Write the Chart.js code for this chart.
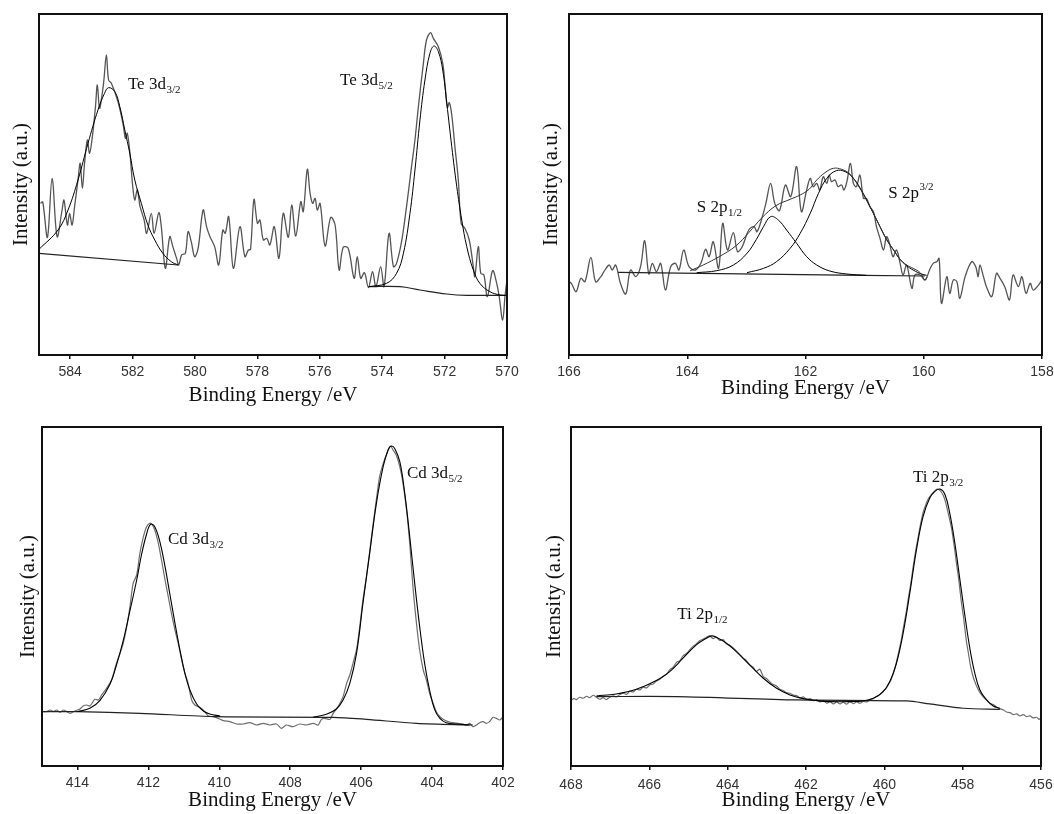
<!DOCTYPE html>
<html>
<head>
<meta charset="utf-8">
<script src="https://cdn.jsdelivr.net/npm/chart.js@4.4.1/dist/chart.umd.min.js"></script>
<style>
  html, body { margin: 0; padding: 0; background: #fff; width: 1054px; height: 814px; overflow: hidden; }
  canvas { position: absolute; }
</style>
</head>
<body>
<canvas id="te" style="left:0;top:0;width:527px;height:410px" width="527" height="410"></canvas>
<canvas id="s" style="left:527px;top:0;width:527px;height:410px" width="527" height="410"></canvas>
<canvas id="cd" style="left:0;top:410px;width:527px;height:404px" width="527" height="404"></canvas>
<canvas id="ti" style="left:527px;top:410px;width:527px;height:404px" width="527" height="404"></canvas>
<script>
// ---------- Te 3d ----------
const teTicks = [584, 582, 580, 578, 576, 574, 572, 570];
const teRaw = [[584.95,455],[584.88,459],[584.73,353],[584.58,530],[584.42,355],[584.26,435],[584.20,465],[584.09,390],[584.02,425],[583.94,390],[583.86,445],[583.75,525],[583.68,575],[583.61,500],[583.54,575],[583.45,645],[583.38,605],[583.29,655],[583.19,745],[583.13,810],[583.06,740],[582.98,780],[582.92,825],[582.84,900],[582.77,825],[582.68,815],[582.47,760],[582.30,690],[582.23,650],[582.17,665],[582.08,600],[582.00,510],[581.93,465],[581.85,495],[581.76,445],[581.63,405],[581.55,365],[581.40,425],[581.31,365],[581.16,427],[581.08,385],[580.95,260],[580.81,355],[580.71,325],[580.59,290],[580.52,270],[580.43,300],[580.31,305],[580.22,370],[580.12,340],[580.01,295],[579.90,320],[579.74,435],[579.63,385],[579.52,355],[579.37,325],[579.24,270],[579.11,375],[579.03,365],[578.92,415],[578.77,260],[578.56,385],[578.40,295],[578.29,315],[578.22,317],[578.11,467],[578.00,395],[577.92,405],[577.81,345],[577.70,350],[577.60,330],[577.46,385],[577.31,290],[577.17,425],[577.01,353],[576.90,450],[576.77,357],[576.61,460],[576.53,430],[576.40,557],[576.31,485],[576.23,455],[576.15,470],[576.08,435],[575.99,455],[575.83,327],[575.65,413],[575.51,390],[575.38,255],[575.25,323],[575.09,320],[574.90,230],[574.80,295],[574.69,230],[574.57,247],[574.44,202],[574.31,250],[574.20,205],[574.05,265],[573.94,205],[573.78,365],[573.64,265],[573.54,275],[573.38,340],[573.22,445],[573.06,565],[572.95,645],[572.84,745],[572.68,875],[572.58,945],[572.45,967],[572.36,950],[572.20,925],[572.06,875],[571.98,805],[571.91,743],[571.85,757],[571.77,720],[571.67,625],[571.56,525],[571.47,395],[571.35,380],[571.21,345],[571.08,265],[571.03,235],[570.92,325],[570.84,245],[570.74,240],[570.63,175],[570.46,253],[570.33,215],[570.25,175],[570.14,105],[570.06,180],[570.00,225]];
const te32Fit = [[585.00,317],[584.39,375],[584.07,435],[583.75,525],[583.43,635],[583.11,735],[582.90,785],[582.77,802],[582.57,790],[582.41,745],[582.25,675],[582.09,605],[581.93,525],[581.72,455],[581.51,390],[581.29,345],[581.03,305],[580.76,280],[580.54,270]];
const te32Base = [[585.00,305],[580.54,270]];
const te52Fit = [[574.44,205],[573.86,215],[573.54,245],[573.32,305],[573.11,425],[572.95,555],[572.79,705],[572.63,825],[572.47,905],[572.34,927],[572.20,910],[572.06,855],[571.93,755],[571.77,625],[571.61,505],[571.45,405],[571.29,325],[571.08,255],[570.87,215],[570.55,190],[570.22,180],[570.02,179]];
const te52Base = [[574.44,205],[573.43,205],[572.79,195],[571.93,183],[571.29,179],[570.05,179]];

// ---------- S 2p ----------
const sTicks = [166, 164, 162, 160, 158];
const sRaw = [[166.00,220],[165.96,215],[165.88,190],[165.80,230],[165.73,220],[165.63,293],[165.55,220],[165.46,235],[165.41,250],[165.32,270],[165.27,255],[165.21,270],[165.13,215],[165.04,183],[164.96,255],[164.87,235],[164.79,265],[164.72,343],[164.65,243],[164.59,275],[164.52,250],[164.45,275],[164.37,195],[164.28,265],[164.20,275],[164.14,255],[164.06,315],[163.97,265],[163.86,255],[163.77,275],[163.69,317],[163.63,295],[163.56,340],[163.47,260],[163.40,395],[163.32,315],[163.22,367],[163.15,310],[163.07,325],[162.96,375],[162.87,385],[162.82,370],[162.73,415],[162.67,455],[162.59,515],[162.52,455],[162.44,433],[162.34,510],[162.25,475],[162.15,565],[162.07,430],[161.98,495],[161.92,530],[161.87,505],[161.81,515],[161.76,495],[161.70,535],[161.64,515],[161.60,540],[161.56,520],[161.50,525],[161.45,505],[161.39,510],[161.35,495],[161.30,520],[161.24,575],[161.19,515],[161.14,505],[161.08,540],[161.02,470],[160.97,470],[160.91,445],[160.85,430],[160.80,385],[160.74,350],[160.68,315],[160.63,355],[160.58,335],[160.52,295],[160.46,315],[160.40,275],[160.35,240],[160.29,270],[160.20,200],[160.15,240],[160.06,240],[159.98,225],[159.89,260],[159.84,275],[159.78,280],[159.74,290],[159.70,155],[159.61,235],[159.56,185],[159.50,225],[159.44,220],[159.39,170],[159.30,235],[159.19,280],[159.12,265],[159.08,235],[159.05,270],[158.99,235],[158.94,205],[158.85,175],[158.77,245],[158.71,230],[158.63,205],[158.55,165],[158.49,240],[158.40,205],[158.34,235],[158.27,185],[158.20,215],[158.15,195],[158.08,205],[158.00,225]];
const sEnvelope = [[163.95,253],[163.73,270],[163.46,295],[163.18,327],[162.96,367],[162.73,413],[162.50,448],[162.26,467],[162.09,480],[161.94,497],[161.81,525],[161.67,547],[161.53,560],[161.39,557],[161.25,543],[161.08,500],[160.97,465],[160.85,425],[160.74,385],[160.63,347],[160.51,315],[160.40,287],[160.29,270],[160.18,260],[160.06,247],[159.98,225],[159.94,233]];
const s12Fit = [[163.84,247],[163.50,253],[163.22,270],[162.99,305],[162.83,347],[162.71,385],[162.59,415],[162.46,405],[162.32,375],[162.15,335],[161.98,295],[161.81,270],[161.59,252],[161.30,243],[160.97,239]];
const s32Fit = [[162.99,247],[162.71,260],[162.49,280],[162.26,320],[162.09,365],[161.92,425],[161.78,485],[161.64,530],[161.48,553],[161.33,550],[161.19,530],[161.05,493],[160.91,445],[160.74,385],[160.63,347],[160.51,315],[160.40,287],[160.29,268],[160.18,255],[160.04,243],[159.95,239]];
const sBase = [[165.17,248],[161.02,239],[159.98,237]];

// ---------- Cd 3d ----------
const cdTicks = [414, 412, 410, 408, 406, 404, 402];
const cdRaw = [[415.00,163],[414.87,163],[414.77,168],[414.68,163],[414.59,168],[414.49,161],[414.40,168],[414.30,163],[414.21,158],[414.12,163],[414.00,168],[413.93,171],[413.84,180],[413.74,183],[413.65,180],[413.51,200],[413.41,198],[413.32,213],[413.18,233],[413.04,258],[412.90,308],[412.80,338],[412.71,368],[412.61,418],[412.52,478],[412.43,548],[412.33,573],[412.24,638],[412.14,688],[412.05,718],[411.96,728],[411.91,726],[411.82,708],[411.72,668],[411.63,618],[411.53,558],[411.44,508],[411.35,458],[411.25,408],[411.16,368],[411.06,318],[410.97,278],[410.88,248],[410.78,198],[410.69,183],[410.55,176],[410.41,163],[410.31,150],[410.17,148],[410.03,143],[409.89,136],[409.70,133],[409.51,126],[409.33,126],[409.14,130],[408.95,123],[408.76,128],[408.58,123],[408.39,126],[408.25,113],[408.11,123],[407.92,118],[407.73,126],[407.54,123],[407.35,128],[407.21,123],[407.12,140],[407.03,143],[406.88,140],[406.79,158],[406.65,178],[406.51,208],[406.41,248],[406.32,273],[406.23,308],[406.13,350],[406.04,418],[405.95,498],[405.85,568],[405.76,643],[405.66,728],[405.57,800],[405.48,868],[405.40,900],[405.31,928],[405.23,950],[405.17,960],[405.10,948],[405.01,933],[404.91,898],[404.82,848],[404.72,768],[404.63,668],[404.54,538],[404.44,428],[404.35,348],[404.25,288],[404.16,258],[404.07,218],[403.97,188],[403.88,163],[403.78,148],[403.69,140],[403.55,133],[403.41,130],[403.27,128],[403.13,126],[403.03,123],[402.94,128],[402.85,118],[402.75,123],[402.66,130],[402.56,133],[402.47,128],[402.38,133],[402.28,146],[402.19,143],[402.09,138],[402.00,148]];
const cd32Fit = [[414.00,163],[413.65,173],[413.37,196],[413.08,246],[412.90,303],[412.71,376],[412.52,466],[412.33,558],[412.19,636],[412.05,696],[411.94,725],[411.82,718],[411.67,670],[411.53,598],[411.39,513],[411.25,428],[411.11,348],[410.97,278],[410.83,228],[410.64,186],[410.45,165],[410.27,156],[409.98,150]];
const cd52Fit = [[407.35,147],[406.98,155],[406.70,171],[406.51,198],[406.32,248],[406.13,338],[405.95,488],[405.76,638],[405.57,788],[405.38,898],[405.24,948],[405.15,960],[405.05,952],[404.91,913],[404.77,818],[404.63,688],[404.49,548],[404.35,418],[404.21,308],[404.07,228],[403.93,170],[403.78,143],[403.60,130],[403.32,126],[402.94,123]];
const cdBase = [[415.00,163],[414.00,163],[412.24,158],[410.08,148],[406.79,146],[405.85,140],[404.44,128],[402.85,123]];

// ---------- Ti 2p ----------
const tiTicks = [468, 466, 464, 462, 460, 458, 456];
const tiRaw = [[468.00,196],[467.93,202],[467.86,199],[467.78,206],[467.69,203],[467.60,209],[467.52,205],[467.43,212],[467.35,206],[467.26,200],[467.18,205],[467.10,199],[467.01,206],[466.92,210],[466.84,207],[466.75,214],[466.67,218],[466.58,215],[466.50,224],[466.41,222],[466.33,230],[466.24,228],[466.16,236],[466.07,234],[465.99,243],[465.90,246],[465.82,255],[465.73,260],[465.65,269],[465.56,275],[465.48,288],[465.39,296],[465.31,310],[465.22,316],[465.14,330],[465.05,337],[464.97,348],[464.88,359],[464.80,366],[464.71,376],[464.63,380],[464.54,386],[464.46,390],[464.37,382],[464.29,386],[464.20,376],[464.12,379],[464.03,366],[463.95,362],[463.86,354],[463.78,345],[463.69,334],[463.61,324],[463.52,316],[463.44,304],[463.35,296],[463.27,284],[463.18,290],[463.09,268],[463.01,262],[462.92,252],[462.84,244],[462.75,240],[462.67,230],[462.58,226],[462.49,219],[462.41,218],[462.32,212],[462.24,211],[462.15,204],[462.07,207],[461.98,200],[461.90,202],[461.81,196],[461.73,199],[461.64,192],[461.56,196],[461.47,188],[461.39,193],[461.30,186],[461.22,192],[461.13,186],[461.05,191],[460.96,185],[460.88,193],[460.79,187],[460.71,192],[460.62,188],[460.54,194],[460.45,192],[460.37,199],[460.28,202],[460.20,208],[460.11,214],[460.03,224],[459.96,232],[459.90,244],[459.83,258],[459.77,278],[459.71,302],[459.65,333],[459.58,370],[459.52,410],[459.45,455],[459.39,500],[459.32,550],[459.26,600],[459.20,645],[459.13,690],[459.07,728],[459.01,760],[458.94,784],[458.88,800],[458.81,812],[458.75,820],[458.70,826],[458.65,830],[458.60,828],[458.55,822],[458.50,812],[458.45,796],[458.41,778],[458.37,758],[458.33,738],[458.28,710],[458.24,678],[458.20,645],[458.16,608],[458.11,568],[458.07,528],[458.03,488],[457.98,448],[457.94,408],[457.90,370],[457.85,336],[457.81,306],[457.77,284],[457.73,266],[457.68,250],[457.64,238],[457.58,224],[457.52,214],[457.45,204],[457.39,198],[457.33,190],[457.26,186],[457.19,182],[457.13,176],[457.05,172],[456.96,168],[456.88,162],[456.79,160],[456.71,154],[456.62,156],[456.54,150],[456.45,154],[456.37,148],[456.28,150],[456.20,144],[456.11,146],[456.05,140],[456.00,144]];
const tiFit = [[467.35,210],[466.84,216],[466.33,230],[465.82,256],[465.48,283],[465.14,323],[464.80,363],[464.54,383],[464.41,390],[464.29,386],[464.03,368],[463.78,343],[463.44,303],[463.09,263],[462.75,233],[462.41,213],[462.07,202],[461.73,196],[461.39,193],[460.88,193],[460.54,195],[460.28,203],[460.03,223],[459.86,253],[459.69,308],[459.52,398],[459.35,518],[459.18,648],[459.01,748],[458.84,803],[458.71,823],[458.58,830],[458.45,813],[458.33,758],[458.20,668],[458.07,558],[457.94,448],[457.81,348],[457.69,278],[457.56,228],[457.39,198],[457.22,180],[457.05,173]];
const tiBase = [[467.35,208],[465.31,208],[462.24,198],[459.43,195],[458.84,186],[457.98,173],[457.05,170]];

// ---------- drawing helpers ----------
const SERIF = '"Liberation Serif", "Times New Roman", serif';
const SANS = '"Liberation Sans", Arial, sans-serif';

const toXY = pts => pts.map(p => ({ x: p[0], y: p[1] }));

function lineSet(label, pts, color, width, tension) {
  return {
    label, data: toXY(pts), showLine: true, borderColor: color, borderWidth: width,
    pointRadius: 0, pointHoverRadius: 0, fill: false, tension: tension
  };
}

// Plot frame on all four sides of the chart area
const framePlugin = {
  id: 'frameBox',
  afterDatasetsDraw(chart) {
    const a = chart.chartArea, ctx = chart.ctx;
    ctx.save();
    ctx.strokeStyle = '#111';
    ctx.lineWidth = 2;
    ctx.strokeRect(a.left, a.top, a.right - a.left, a.bottom - a.top);
    ctx.restore();
  }
};

// Peak names with sub/superscripts, placed in data coordinates
const peakLabelPlugin = {
  id: 'peakLabels',
  afterDraw(chart, args, opts) {
    const ctx = chart.ctx, xs = chart.scales.x, ys = chart.scales.y;
    ctx.save();
    ctx.fillStyle = '#111';
    ctx.textBaseline = 'alphabetic';
    ctx.textAlign = 'left';
    (opts.items || []).forEach(it => {
      const px = xs.getPixelForValue(it.x), py = ys.getPixelForValue(it.y);
      ctx.font = '17px ' + SERIF;
      ctx.fillText(it.main, px, py);
      const w = ctx.measureText(it.main).width;
      ctx.font = '11px ' + SERIF;
      if (it.sub) ctx.fillText(it.sub, px + w + 0.5, py + 4);
      if (it.sup) ctx.fillText(it.sup, px + w + 0.5, py - 8);
    });
    ctx.restore();
  }
};

function makePanel(id, p) {
  new Chart(document.getElementById(id), {
    type: 'scatter',
    data: { datasets: p.datasets },
    plugins: [framePlugin, peakLabelPlugin],
    options: {
      responsive: false,
      animation: false,
      events: [],
      layout: { padding: p.padding },
      plugins: {
        legend: { display: false },
        tooltip: { enabled: false },
        peakLabels: { items: p.labels }
      },
      scales: {
        x: {
          type: 'linear', reverse: true, min: p.xMin, max: p.xMax,
          afterBuildTicks: s => { s.ticks = p.ticks.map(v => ({ value: v })); },
          ticks: { font: { family: SANS, size: 14 }, color: '#333', padding: p.tickPad, maxRotation: 0, autoSkip: false, callback: v => String(v) },
          grid: { display: true, drawOnChartArea: false, drawTicks: true, tickLength: 4, color: '#111', lineWidth: 1.5 },
          border: { display: false },
          title: { display: true, text: 'Binding Energy /eV', color: '#111', font: { family: SERIF, size: 21 }, padding: { top: 0, bottom: p.xTitlePad } },
          afterFit: s => { s.height = p.xHeight; s.paddingLeft = 0; s.paddingRight = 0; }
        },
        y: {
          type: 'linear', min: 0, max: p.yMax,
          ticks: { display: false },
          grid: { display: false, drawTicks: false },
          border: { display: false },
          title: { display: true, text: 'Intensity (a.u.)', color: '#111', font: { family: SERIF, size: 21 }, padding: { top: p.yTitlePad, bottom: 0 } },
          afterFit: s => { s.width = p.yWidth; }
        }
      }
    }
  });
}

const FIT = '#000', RAW_TOP = '#555', RAW_LOW = '#6e6e6e', BASE = '#222';

makePanel('te', {
  padding: { top: 14, right: 20, bottom: 0, left: 0 }, yWidth: 39, xHeight: 55,
  xMin: 570, xMax: 585, yMax: 1023, ticks: teTicks, tickPad: 5, xTitlePad: 2.4, yTitlePad: 8.4,
  datasets: [
    lineSet('Te 3d3/2 fit', te32Fit, FIT, 1, 0.4),
    lineSet('Te 3d5/2 fit', te52Fit, FIT, 1, 0.4),
    lineSet('Te 3d3/2 background', te32Base, BASE, 1.2, 0),
    lineSet('Te 3d5/2 background', te52Base, BASE, 1.2, 0.4),
    lineSet('Te 3d raw', teRaw, RAW_TOP, 1.3, 0.35)
  ],
  labels: [
    { x: 582.15, y: 798, main: 'Te 3d', sub: '3/2' },
    { x: 575.35, y: 810, main: 'Te 3d', sub: '5/2' }
  ]
});

makePanel('s', {
  padding: { top: 14, right: 12, bottom: 0, left: 0 }, yWidth: 42, xHeight: 55,
  xMin: 158, xMax: 166, yMax: 1023, ticks: sTicks, tickPad: 5, xTitlePad: 9, yTitlePad: 11.4,
  datasets: [
    lineSet('S 2p envelope', sEnvelope, '#333', 1, 0.4),
    lineSet('S 2p1/2 fit', s12Fit, FIT, 1, 0.4),
    lineSet('S 2p3/2 fit', s32Fit, FIT, 1, 0.4),
    lineSet('S 2p background', sBase, BASE, 1.2, 0),
    lineSet('S 2p raw', sRaw, RAW_TOP, 1.3, 0.35)
  ],
  labels: [
    { x: 163.84, y: 429, main: 'S 2p', sub: '1/2' },
    { x: 160.60, y: 471, main: 'S 2p', sup: '3/2' }
  ]
});

makePanel('cd', {
  padding: { top: 17, right: 24, bottom: 0, left: 0 }, yWidth: 42, xHeight: 48,
  xMin: 402, xMax: 415, yMax: 1017, ticks: cdTicks, tickPad: 5, xTitlePad: 1.4, yTitlePad: 15.4,
  datasets: [
    lineSet('Cd 3d3/2 fit', cd32Fit, FIT, 1.1, 0.4),
    lineSet('Cd 3d5/2 fit', cd52Fit, FIT, 1.1, 0.4),
    lineSet('Cd 3d background', cdBase, BASE, 1.2, 0.3),
    lineSet('Cd 3d raw', cdRaw, RAW_LOW, 1.2, 0.3)
  ],
  labels: [
    { x: 411.45, y: 666, main: 'Cd 3d', sub: '3/2' },
    { x: 404.71, y: 864, main: 'Cd 3d', sub: '5/2' }
  ]
});

makePanel('ti', {
  padding: { top: 17, right: 13, bottom: 0, left: 0 }, yWidth: 44, xHeight: 48,
  xMin: 456, xMax: 468, yMax: 1016, ticks: tiTicks, tickPad: 7, xTitlePad: 1.4, yTitlePad: 14.4,
  datasets: [
    lineSet('Ti 2p fit', tiFit, FIT, 1.1, 0.4),
    lineSet('Ti 2p background', tiBase, BASE, 1.2, 0.3),
    lineSet('Ti 2p raw', tiRaw, RAW_LOW, 1.2, 0.3)
  ],
  labels: [
    { x: 465.29, y: 441, main: 'Ti 2p', sub: '1/2' },
    { x: 459.27, y: 852, main: 'Ti 2p', sub: '3/2' }
  ]
});
</script>
</body>
</html>
